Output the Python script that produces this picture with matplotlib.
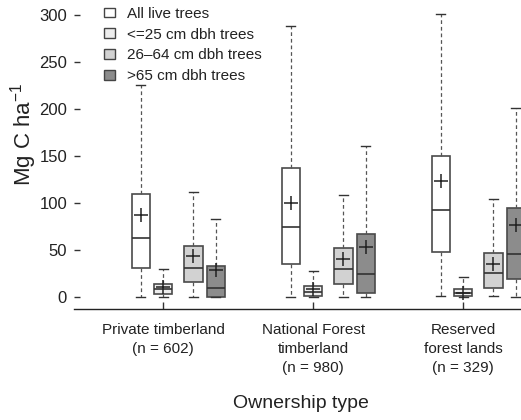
import matplotlib
matplotlib.use("Agg")
import matplotlib.pyplot as plt
from matplotlib.patches import Patch

plt.rcParams['font.family'] = ['Liberation Sans', 'DejaVu Sans']
plt.rcParams['mathtext.default'] = 'regular'
plt.rcParams['text.color'] = '#222222'
plt.rcParams['xtick.labelcolor'] = '#222222'
plt.rcParams['ytick.labelcolor'] = '#222222'

# ownership groups and tree size classes
groups = ["Private timberland\n(n = 602)",
          "National Forest\ntimberland\n(n = 980)",
          "Reserved\nforest lands\n(n = 329)"]
sizes = ["All live trees", "<=25 cm dbh trees", "26\u201364 cm dbh trees", ">65 cm dbh trees"]
colors = ["#ffffff", "#ededed", "#d2d2d2", "#8c8c8c"]

# Mg C / ha, one list per size class (values per ownership group)
whislo = {
    "All live trees": [0, 0, 0.7],
    "<=25 cm dbh trees": [0, 0, 0],
    "26\u201364 cm dbh trees": [0, 0, 0.7],
    ">65 cm dbh trees": [0, 0, 0],
}
q1 = {
    "All live trees": [31, 35, 48],
    "<=25 cm dbh trees": [3, 1, 0.8],
    "26\u201364 cm dbh trees": [16, 13.5, 9],
    ">65 cm dbh trees": [0, 4.3, 18.5],
}
med = {
    "All live trees": [62, 74, 92],
    "<=25 cm dbh trees": [8.5, 5.3, 3.6],
    "26\u201364 cm dbh trees": [31, 30, 25],
    ">65 cm dbh trees": [9, 24, 45],
}
q3 = {
    "All live trees": [109, 137, 150],
    "<=25 cm dbh trees": [14, 11.7, 8.2],
    "26\u201364 cm dbh trees": [54, 52, 47],
    ">65 cm dbh trees": [33, 67, 95],
}
whishi = {
    "All live trees": [225, 288, 301],
    "<=25 cm dbh trees": [30, 27, 21],
    "26\u201364 cm dbh trees": [111, 108, 104],
    ">65 cm dbh trees": [83, 161, 201],
}
means = {
    "All live trees": [87, 100, 123],
    "<=25 cm dbh trees": [10.5, 8, 4],
    "26\u201364 cm dbh trees": [43.5, 40, 34.5],
    ">65 cm dbh trees": [28, 53, 76],
}

offsets = [-0.149, 0, 0.201, 0.351]
edge = "#4a4a4a"

fig = plt.figure(figsize=(5.21, 4.2), dpi=100)
ax = fig.add_axes([74 / 521, 111 / 420, (521 - 74) / 521, 309 / 420])

for i, s in enumerate(sizes):
    stats = []
    for g in range(len(groups)):
        stats.append(dict(whislo=whislo[s][g], q1=q1[s][g], med=med[s][g], q3=q3[s][g],
                          whishi=whishi[s][g], mean=means[s][g], fliers=[]))
    pos = [g + 1 + offsets[i] for g in range(len(groups))]
    ax.bxp(stats, positions=pos, widths=0.123, capwidths=0.06, patch_artist=True,
           showmeans=True, showfliers=False, manage_ticks=False,
           boxprops=dict(facecolor=colors[i], edgecolor=edge, linewidth=1.2),
           medianprops=dict(color="#333333", linewidth=1.2),
           whiskerprops=dict(color="#555555", linewidth=0.9, linestyle=(0, (3, 2.3))),
           capprops=dict(color="#333333", linewidth=1.0),
           meanprops=dict(marker="+", markersize=10, markeredgecolor="#222222",
                          markeredgewidth=1.1))

ax.set_xlim(0.405, 3.385)
ax.set_ylim(-13.1, 316)
ax.set_xticks([1, 2, 3])
ax.set_xticklabels(groups, fontsize=11, linespacing=1.48)
ax.set_yticks([0, 50, 100, 150, 200, 250, 300])
ax.tick_params(axis='y', direction='in', length=4, width=1, pad=5, labelsize=12, color="#333333")
ax.tick_params(axis='x', direction='in', length=5, width=1, pad=10, color="#333333")
for side in ["left", "top", "right"]:
    ax.spines[side].set_visible(False)
ax.spines["bottom"].set_color("#222222")
ax.spines["bottom"].set_linewidth(1.0)

fig.text(24 / 521, 1 - 134 / 420, "Mg C ha$^{-1}$", rotation=90, fontsize=16,
         ha="center", va="center")
fig.text(301 / 521, 1 - 403 / 420, "Ownership type", fontsize=14, ha="center", va="center")

handles = [Patch(facecolor=c, edgecolor="#444444", linewidth=1) for c in colors]
fig.legend(handles, sizes, loc="upper left", bbox_to_anchor=(104 / 521, 1 - 7 / 420),
           frameon=False, fontsize=11, handlelength=0.7, handleheight=0.6,
           handletextpad=0.8, labelspacing=0.44, borderpad=0, borderaxespad=0)

fig.savefig("out.png", dpi=100)
